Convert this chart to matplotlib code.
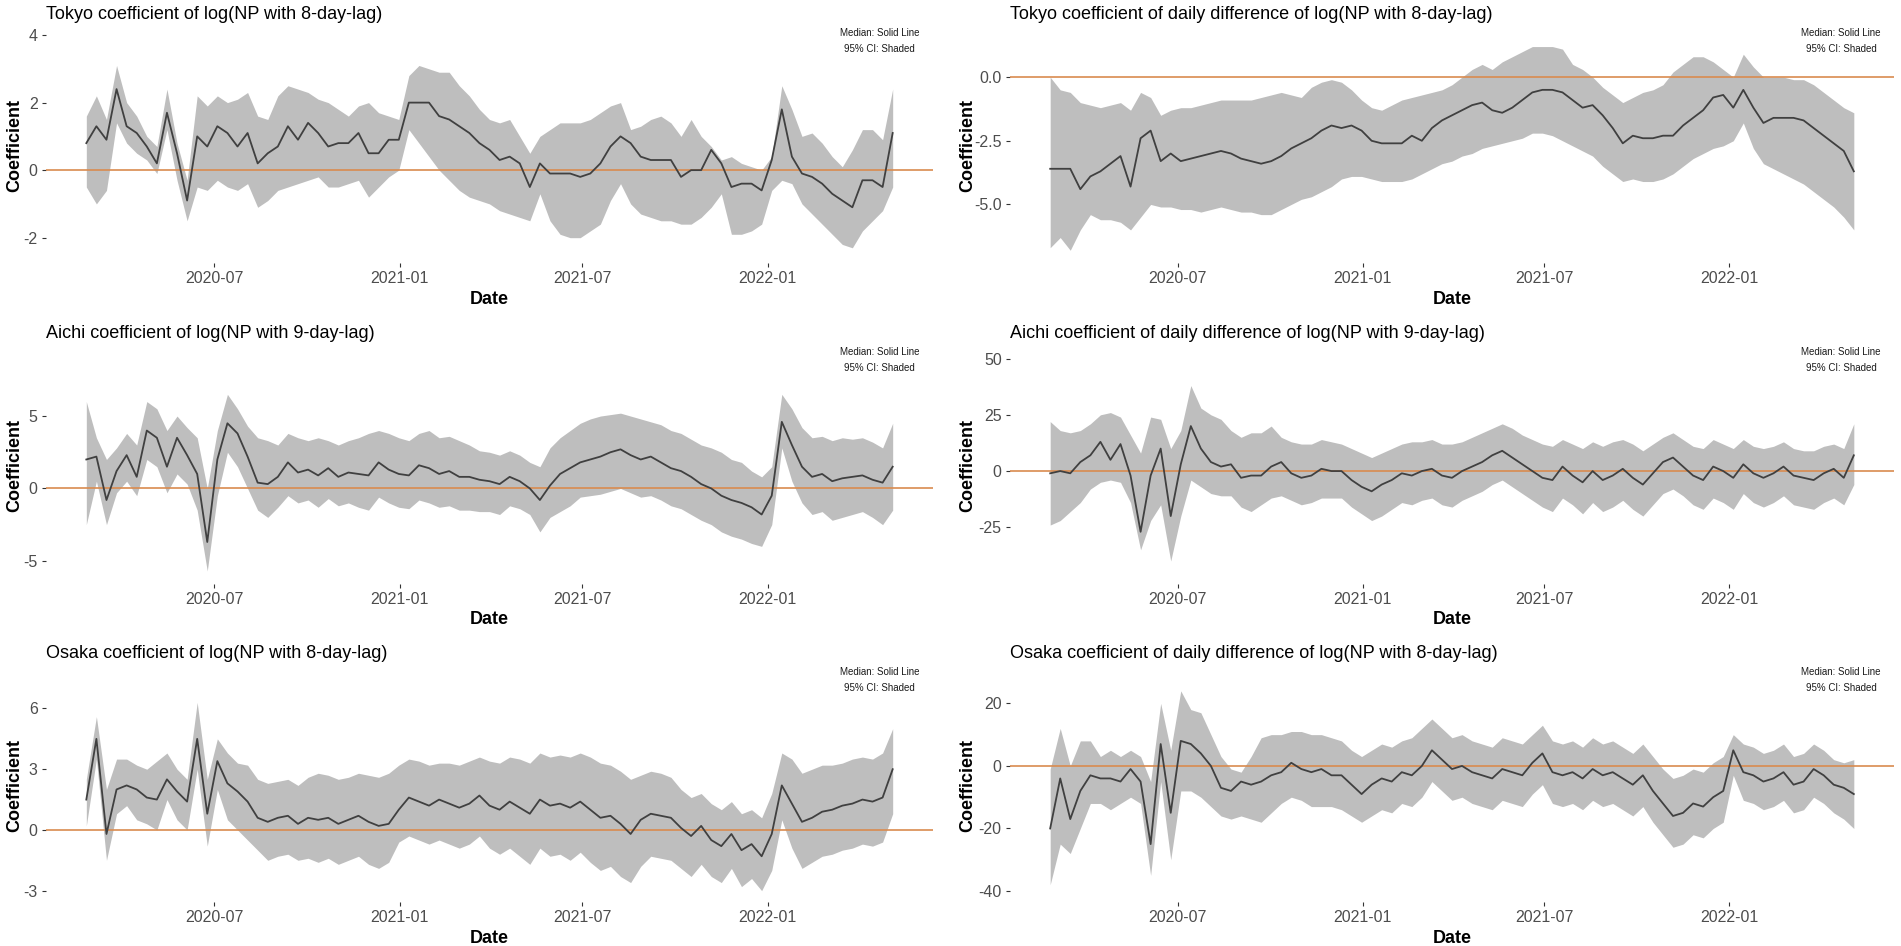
import pandas as pd
import matplotlib
matplotlib.use('Agg')
import matplotlib.pyplot as plt
import matplotlib.dates as mdates

plt.rcParams['font.family'] = ['Liberation Sans', 'DejaVu Sans']

# one value every 10 days, 2020-02-25 .. 2022-05-15
dates = pd.date_range('2020-02-25', periods=81, freq='10D')

titles = [
    "Tokyo coefficient of log(NP with 8-day-lag)",
    "Tokyo coefficient of daily difference of log(NP with 8-day-lag)",
    "Aichi coefficient of log(NP with 9-day-lag)",
    "Aichi coefficient of daily difference of log(NP with 9-day-lag)",
    "Osaka coefficient of log(NP with 8-day-lag)",
    "Osaka coefficient of daily difference of log(NP with 8-day-lag)",
]

tokyo_log_med = [0.8, 1.3, 0.9, 2.4, 1.3, 1.1, 0.7, 0.2, 1.7, 0.5,
                 -0.9, 1.0, 0.7, 1.3, 1.1, 0.7, 1.1, 0.2, 0.5, 0.7,
                 1.3, 0.9, 1.4, 1.1, 0.7, 0.8, 0.8, 1.1, 0.5, 0.5,
                 0.9, 0.9, 2.0, 2.0, 2.0, 1.6, 1.5, 1.3, 1.1, 0.8,
                 0.6, 0.3, 0.4, 0.2, -0.5, 0.2, -0.1, -0.1, -0.1, -0.2,
                 -0.1, 0.2, 0.7, 1.0, 0.8, 0.4, 0.3, 0.3, 0.3, -0.2,
                 0.0, 0.0, 0.6, 0.2, -0.5, -0.4, -0.4, -0.6, 0.3, 1.8,
                 0.4, -0.1, -0.2, -0.4, -0.7, -0.9, -1.1, -0.3, -0.3, -0.5,
                 1.1]
tokyo_log_hi = [1.6, 2.2, 1.5, 3.1, 2.0, 1.6, 1.0, 0.7, 2.4, 0.8,
                -0.3, 2.2, 1.9, 2.2, 2.0, 2.1, 2.3, 1.6, 1.5, 2.2,
                2.5, 2.4, 2.3, 2.1, 2.0, 1.8, 1.6, 1.9, 2.0, 1.7,
                1.6, 1.5, 2.8, 3.1, 3.0, 2.9, 2.9, 2.5, 2.2, 1.8,
                1.5, 1.4, 1.5, 1.0, 0.5, 1.0, 1.2, 1.4, 1.4, 1.4,
                1.5, 1.7, 1.9, 2.0, 1.2, 1.3, 1.5, 1.6, 1.4, 1.0,
                1.5, 1.0, 0.7, 0.3, 0.4, 0.2, 0.1, 0.0, 0.4, 2.5,
                1.8, 1.0, 1.1, 0.8, 0.4, 0.1, 0.6, 1.2, 1.2, 0.9,
                2.4]
tokyo_log_lo = [-0.5, -1.0, -0.6, 1.4, 0.8, 0.5, 0.3, -0.1, 1.2, -0.3,
                -1.5, -0.5, -0.6, -0.3, -0.5, -0.6, -0.4, -1.1, -0.9, -0.6,
                -0.5, -0.4, -0.3, -0.2, -0.5, -0.5, -0.4, -0.3, -0.8, -0.5,
                -0.2, 0.0, 1.2, 0.8, 0.4, 0.0, -0.3, -0.6, -0.8, -0.9,
                -1.0, -1.2, -1.3, -1.4, -1.5, -0.7, -1.5, -1.9, -2.0, -2.0,
                -1.8, -1.6, -0.9, -0.4, -1.0, -1.3, -1.4, -1.5, -1.5, -1.6,
                -1.6, -1.4, -1.1, -0.7, -1.9, -1.9, -1.8, -1.6, -0.6, -0.3,
                -0.4, -1.0, -1.3, -1.6, -1.9, -2.2, -2.3, -1.8, -1.5, -1.2,
                -0.5]

tokyo_diff_med = [-3.6, -3.6, -3.6, -4.4, -3.9, -3.7, -3.4, -3.1, -4.3, -2.4,
                  -2.1, -3.3, -3.0, -3.3, -3.2, -3.1, -3.0, -2.9, -3.0, -3.2,
                  -3.3, -3.4, -3.3, -3.1, -2.8, -2.6, -2.4, -2.1, -1.9, -2.0,
                  -1.9, -2.1, -2.5, -2.6, -2.6, -2.6, -2.3, -2.5, -2.0, -1.7,
                  -1.5, -1.3, -1.1, -1.0, -1.3, -1.4, -1.2, -0.9, -0.6, -0.5,
                  -0.5, -0.6, -0.9, -1.2, -1.1, -1.5, -2.0, -2.6, -2.3, -2.4,
                  -2.4, -2.3, -2.3, -1.9, -1.6, -1.3, -0.8, -0.7, -1.2, -0.5,
                  -1.2, -1.8, -1.6, -1.6, -1.6, -1.7, -2.0, -2.3, -2.6, -2.9,
                  -3.7]
tokyo_diff_hi = [0.0, -0.5, -0.6, -1.0, -1.1, -1.2, -1.1, -1.0, -1.3, -0.6,
                 -0.8, -1.5, -1.3, -1.2, -1.2, -1.1, -1.0, -0.9, -0.9, -0.9,
                 -0.9, -0.8, -0.7, -0.6, -0.7, -0.8, -0.4, -0.2, -0.1, -0.2,
                 -0.5, -0.9, -1.2, -1.3, -1.1, -0.9, -0.8, -0.7, -0.6, -0.5,
                 -0.3, 0.0, 0.3, 0.5, 0.3, 0.6, 0.8, 1.0, 1.2, 1.2,
                 1.2, 1.1, 0.5, 0.3, 0.0, -0.4, -0.7, -1.0, -0.8, -0.6,
                 -0.5, -0.3, 0.2, 0.5, 0.8, 0.8, 0.6, 0.3, 0.0, 0.9,
                 0.4, 0.0, 0.0, 0.0, -0.1, -0.1, -0.3, -0.6, -0.9, -1.2,
                 -1.4]
tokyo_diff_lo = [-6.7, -6.3, -6.8, -6.0, -5.4, -5.6, -5.6, -5.7, -6.0, -5.5,
                 -5.0, -5.1, -5.1, -5.2, -5.2, -5.3, -5.2, -5.1, -5.2, -5.3,
                 -5.3, -5.4, -5.4, -5.2, -5.0, -4.8, -4.7, -4.5, -4.3, -4.0,
                 -3.9, -3.9, -4.0, -4.1, -4.1, -4.1, -4.0, -3.8, -3.6, -3.4,
                 -3.3, -3.1, -3.0, -2.8, -2.7, -2.6, -2.5, -2.4, -2.2, -2.2,
                 -2.3, -2.5, -2.7, -2.9, -3.1, -3.5, -3.8, -4.1, -4.0, -4.1,
                 -4.1, -4.0, -3.8, -3.5, -3.2, -3.0, -2.8, -2.7, -2.5, -1.8,
                 -2.8, -3.4, -3.6, -3.8, -4.0, -4.2, -4.5, -4.8, -5.1, -5.5,
                 -6.0]

aichi_log_med = [2.0, 2.2, -0.8, 1.2, 2.3, 0.8, 4.0, 3.5, 1.5, 3.5,
                 2.3, 1.0, -3.7, 2.0, 4.5, 3.8, 2.2, 0.4, 0.3, 0.8,
                 1.8, 1.1, 1.3, 0.9, 1.4, 0.8, 1.1, 1.0, 0.9, 1.8,
                 1.3, 1.0, 0.9, 1.6, 1.4, 1.0, 1.2, 0.8, 0.8, 0.6,
                 0.5, 0.3, 0.8, 0.5, 0.0, -0.8, 0.2, 1.0, 1.4, 1.8,
                 2.0, 2.2, 2.5, 2.7, 2.3, 2.0, 2.2, 1.8, 1.4, 1.2,
                 0.8, 0.3, 0.0, -0.5, -0.8, -1.0, -1.3, -1.8, -0.5, 4.6,
                 3.0, 1.5, 0.8, 1.0, 0.5, 0.7, 0.8, 0.9, 0.6, 0.4,
                 1.5]
aichi_log_hi = [6.0, 3.5, 2.0, 2.8, 3.8, 3.0, 6.0, 5.5, 4.0, 5.0,
                4.2, 3.5, 0.0, 4.0, 6.5, 5.5, 4.3, 3.5, 3.3, 3.0,
                3.8, 3.5, 3.3, 3.5, 3.3, 3.0, 3.3, 3.5, 3.8, 4.0,
                3.8, 3.5, 3.3, 3.8, 4.0, 3.5, 3.6, 3.3, 3.0, 2.6,
                2.5, 2.3, 2.6, 2.3, 1.8, 1.5, 2.8, 3.5, 4.0, 4.5,
                4.8, 5.0, 5.1, 5.2, 5.0, 4.8, 4.6, 4.4, 4.0, 3.8,
                3.4, 3.0, 2.8, 2.5, 2.0, 1.8, 1.2, 0.8, 1.5, 6.5,
                5.5, 4.2, 3.5, 3.6, 3.3, 3.5, 3.4, 3.5, 3.2, 2.8,
                4.5]
aichi_log_lo = [-2.5, 0.5, -2.5, -0.3, 0.5, -0.5, 2.0, 1.5, -0.3, 1.0,
                0.3, -1.5, -5.7, -0.5, 2.5, 1.5, 0.0, -1.5, -2.0, -1.3,
                -0.5, -1.0, -0.8, -1.3, -0.7, -1.2, -1.0, -1.3, -1.5, -0.6,
                -1.0, -1.3, -1.4, -0.8, -1.0, -1.3, -1.2, -1.5, -1.5, -1.6,
                -1.6, -1.8, -1.2, -1.4, -1.8, -3.0, -2.0, -1.6, -1.2, -0.6,
                -0.5, -0.4, -0.2, 0.0, -0.3, -0.6, -0.5, -0.8, -1.2, -1.4,
                -1.8, -2.2, -2.5, -3.0, -3.3, -3.5, -3.8, -4.0, -2.5, 2.8,
                0.5, -1.0, -1.8, -1.6, -2.2, -2.0, -1.8, -1.6, -2.0, -2.5,
                -1.5]

aichi_diff_med = [-1, 0, -1, 4, 7, 13, 5, 12, -2, -27,
                  -2, 10, -20, 3, 20, 10, 4, 2, 3, -3,
                  -2, -2, 2, 4, -1, -3, -2, 1, 0, 0,
                  -4, -7, -9, -6, -4, -1, -2, 0, 1, -2,
                  -3, 0, 2, 4, 7, 9, 6, 3, 0, -3,
                  -4, 2, -2, -5, 0, -4, -2, 1, -3, -6,
                  -1, 4, 6, 2, -2, -4, 2, 0, -3, 3,
                  -1, -3, -1, 2, -2, -3, -4, -1, 1, -3,
                  7]
aichi_diff_hi = [22, 18, 17, 18, 21, 25, 26, 24, 16, 8,
                 24, 23, 10, 18, 38, 28, 25, 23, 18, 15,
                 17, 17, 20, 15, 13, 12, 12, 14, 13, 12,
                 10, 8, 6, 8, 10, 12, 13, 13, 14, 12,
                 12, 13, 15, 17, 19, 21, 19, 16, 14, 12,
                 11, 14, 12, 10, 13, 11, 13, 14, 12, 9,
                 12, 15, 17, 14, 11, 10, 14, 12, 10, 14,
                 11, 10, 11, 13, 10, 9, 9, 11, 12, 10,
                 21]
aichi_diff_lo = [-24, -22, -18, -14, -8, -5, -4, -5, -14, -35,
                 -22, -15, -40, -20, -4, -7, -10, -11, -11, -16,
                 -18, -15, -12, -11, -13, -15, -14, -12, -12, -12,
                 -16, -19, -22, -20, -17, -14, -15, -13, -12, -15,
                 -16, -13, -11, -9, -6, -4, -7, -10, -13, -16,
                 -18, -12, -15, -19, -14, -18, -16, -13, -17, -20,
                 -15, -10, -8, -11, -15, -17, -12, -14, -17, -10,
                 -14, -16, -14, -11, -15, -16, -17, -14, -12, -15,
                 -6]

osaka_log_med = [1.5, 4.5, -0.2, 2.0, 2.2, 2.0, 1.6, 1.5, 2.5, 1.9,
                 1.4, 4.5, 0.8, 3.4, 2.3, 1.9, 1.4, 0.6, 0.4, 0.6,
                 0.7, 0.3, 0.6, 0.5, 0.6, 0.3, 0.5, 0.7, 0.4, 0.2,
                 0.3, 1.0, 1.6, 1.4, 1.2, 1.5, 1.3, 1.1, 1.3, 1.7,
                 1.2, 1.0, 1.4, 1.1, 0.8, 1.5, 1.2, 1.3, 1.1, 1.4,
                 1.0, 0.6, 0.7, 0.3, -0.2, 0.5, 0.8, 0.7, 0.6, 0.1,
                 -0.3, 0.2, -0.5, -0.8, -0.2, -1.0, -0.7, -1.3, -0.2, 2.2,
                 1.3, 0.4, 0.6, 0.9, 1.0, 1.2, 1.3, 1.5, 1.4, 1.6,
                 3.0]
osaka_log_hi = [2.5, 5.6, 2.0, 3.5, 3.5, 3.2, 3.0, 3.4, 3.8, 3.0,
                2.5, 6.3, 2.5, 4.5, 3.8, 3.3, 3.2, 2.5, 2.3, 2.4,
                2.5, 2.2, 2.6, 2.8, 2.7, 2.5, 2.6, 2.8, 2.7, 2.6,
                2.8, 3.2, 3.5, 3.4, 3.2, 3.3, 3.3, 3.2, 3.4, 3.6,
                3.4, 3.3, 3.6, 3.5, 3.3, 3.8, 3.6, 3.7, 3.6, 3.8,
                3.6, 3.3, 3.2, 2.9, 2.5, 2.7, 2.9, 2.8, 2.6, 2.0,
                1.6, 1.8, 1.3, 1.0, 1.4, 0.8, 1.0, 0.6, 1.8, 3.8,
                3.5, 2.8, 3.0, 3.2, 3.2, 3.3, 3.5, 3.6, 3.5, 3.8,
                5.0]
osaka_log_lo = [0.2, 3.5, -1.5, 0.8, 1.2, 0.5, 0.3, 0.0, 1.5, 0.5,
                0.0, 3.0, -0.8, 2.0, 0.5, 0.0, -0.5, -1.0, -1.5, -1.3,
                -1.2, -1.5, -1.4, -1.6, -1.4, -1.7, -1.5, -1.3, -1.7, -1.9,
                -1.6, -0.6, -0.3, -0.5, -0.7, -0.5, -0.7, -0.9, -0.7, -0.3,
                -0.9, -1.2, -0.9, -1.3, -1.7, -0.9, -1.3, -1.2, -1.5, -1.1,
                -1.6, -2.0, -1.8, -2.3, -2.6, -1.8, -1.3, -1.4, -1.5, -1.9,
                -2.3, -1.7, -2.3, -2.6, -1.9, -2.8, -2.4, -3.0, -2.0, 0.5,
                -0.9, -1.9, -1.6, -1.3, -1.2, -1.0, -0.9, -0.7, -0.8, -0.6,
                0.8]

osaka_diff_med = [-20, -4, -17, -8, -3, -4, -4, -5, -1, -5,
                  -25, 7, -15, 8, 7, 4, 0, -7, -8, -5,
                  -6, -5, -3, -2, 1, -1, -2, -1, -3, -3,
                  -6, -9, -6, -4, -5, -2, -3, 0, 5, 2,
                  -1, 0, -2, -3, -4, -1, -2, -3, 1, 4,
                  -2, -3, -2, -4, -1, -3, -2, -4, -6, -3,
                  -8, -12, -16, -15, -12, -13, -10, -8, 5, -2,
                  -3, -5, -4, -2, -6, -5, -1, -3, -6, -7,
                  -9]
osaka_diff_hi = [-1, 12, 0, 8, 8, 3, 5, 3, 5, 3,
                 -5, 20, 5, 24, 18, 17, 10, 3, -1, -2,
                 3, 9, 10, 10, 11, 11, 10, 10, 9, 8,
                 5, 3, 5, 7, 6, 8, 9, 12, 15, 12,
                 9, 10, 8, 7, 6, 9, 8, 7, 10, 13,
                 8, 7, 8, 6, 9, 7, 8, 6, 4, 7,
                 3, -1, -4, -3, -1, -2, 1, 3, 10, 7,
                 6, 4, 5, 7, 3, 4, 7, 5, 2, 1,
                 2]
osaka_diff_lo = [-38, -25, -28, -20, -12, -12, -14, -12, -10, -12,
                 -35, -5, -30, -8, -8, -10, -13, -16, -17, -16,
                 -17, -18, -15, -12, -10, -11, -13, -13, -13, -14,
                 -16, -18, -16, -14, -15, -12, -13, -10, -5, -8,
                 -11, -10, -12, -13, -14, -11, -12, -13, -9, -6,
                 -12, -13, -12, -14, -11, -13, -12, -14, -16, -13,
                 -18, -22, -26, -25, -22, -23, -20, -18, -3, -11,
                 -12, -14, -13, -11, -15, -14, -10, -12, -15, -17,
                 -20]

medians = [tokyo_log_med, tokyo_diff_med, aichi_log_med,
           aichi_diff_med, osaka_log_med, osaka_diff_med]
uppers = [tokyo_log_hi, tokyo_diff_hi, aichi_log_hi,
          aichi_diff_hi, osaka_log_hi, osaka_diff_hi]
lowers = [tokyo_log_lo, tokyo_diff_lo, aichi_log_lo,
          aichi_diff_lo, osaka_log_lo, osaka_diff_lo]

y_limits = [(-2.75, 4.18), (-7.3, 1.89), (-6.6, 9.7),
            (-50.2, 54.7), (-3.56, 8.0), (-43.5, 31.3)]
y_ticks = [[-2, 0, 2, 4], [-5.0, -2.5, 0.0], [-5, 0, 5],
           [-25, 0, 25, 50], [-3, 0, 3, 6], [-40, -20, 0, 20]]
x_ticks = pd.to_datetime(['2020-07-01', '2021-01-01', '2021-07-01', '2022-01-01'])

W, H = 1901, 946
fig = plt.figure(figsize=(W / 100, H / 100), dpi=100)

col_px = [(46, 933), (1010, 1894)]
row_px = [(29, 263), (348, 584), (668, 902)]

pad_days = pd.Timedelta(days=40)

for i in range(6):
    row, col = divmod(i, 2)
    x0, x1 = col_px[col]
    y0, y1 = row_px[row]
    ax = fig.add_axes([x0 / W, 1 - y1 / H, (x1 - x0) / W, (y1 - y0) / H])

    ax.fill_between(dates, lowers[i], uppers[i], color='#BEBEBE',
                    linewidth=0, zorder=1)
    ax.axhline(0, color='#D98B4F', lw=1.2, zorder=2)
    ax.plot(dates, medians[i], color='#404040', lw=1.3, zorder=3)

    ax.set_xlim(dates[0] - pad_days, dates[-1] + pad_days)
    ax.set_ylim(*y_limits[i])
    ax.set_xticks(x_ticks)
    ax.xaxis.set_major_formatter(mdates.DateFormatter('%Y-%m'))
    ax.set_yticks(y_ticks[i])
    if i == 1:
        ax.set_yticklabels(['%.1f' % v for v in y_ticks[i]])
    else:
        ax.set_yticklabels(['%d' % v for v in y_ticks[i]])
    ax.tick_params(labelsize=11.5, labelcolor='#4D4D4D', color='#333333',
                   length=3, width=0.8, pad=3)
    for s in ax.spines.values():
        s.set_visible(False)
    ax.set_facecolor('none')

    ax.set_title(titles[i], loc='left', fontsize=13, pad=7)
    ax.text(0.94, 1 - 12 / (y1 - y0), 'Median: Solid Line\n95% CI: Shaded',
            transform=ax.transAxes, ha='center', va='center',
            fontsize=7, linespacing=1.7, color='#1A1A1A')

    fig.text((x0 + x1) / 2 / W, 1 - (y1 + 36) / H, 'Date', ha='center',
             va='center', fontsize=13, fontweight='bold')
    lab_x = 15 if col == 0 else 968
    fig.text(lab_x / W, 1 - (y0 + y1) / 2 / H, 'Coefficient', rotation=90,
             ha='center', va='center', fontsize=13, fontweight='bold')

fig.savefig('out.png', dpi=100)
